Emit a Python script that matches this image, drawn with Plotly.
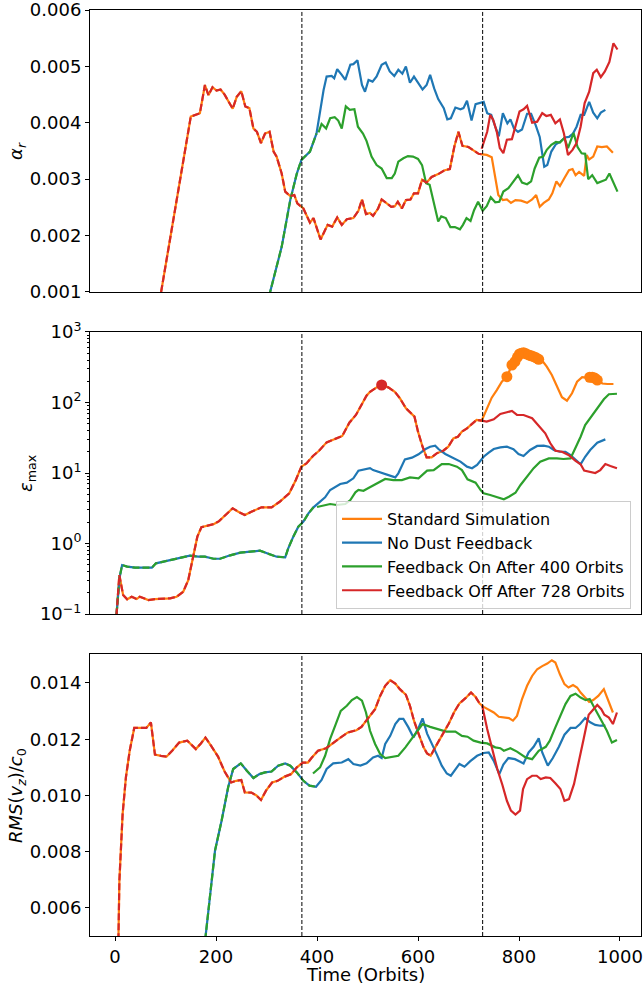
import plotly.graph_objects as go

# ---------------------------------------------------------------------------
# Data (time in orbits)
# ---------------------------------------------------------------------------
# Top panel: alpha_r
alpha_std_t = [78, 150, 168, 178, 185, 193, 201, 209, 217, 233, 241, 250, 258, 266, 274, 281,
               289, 297, 306, 314, 320, 330, 337, 347, 355, 361, 373, 386, 393, 407, 421, 430,
               440, 449, 459, 472, 482, 489, 497, 505, 511, 521, 528, 537, 547, 554, 560, 568,
               576, 585, 592, 600, 608, 617, 627, 640, 653, 663, 672, 680, 688, 700, 710, 720,
               728, 736, 746, 753, 759, 768, 776, 784, 793, 804, 816, 826, 834, 841, 849, 859,
               866, 874, 881, 890, 899, 906, 912, 919, 929, 934, 939, 947, 955, 964, 974, 986]
alpha_std = [0.0003, 0.00411, 0.00417, 0.00467, 0.00449, 0.00463, 0.00457, 0.00459, 0.0045,
             0.00425, 0.00446, 0.00456, 0.00429, 0.00426, 0.0039, 0.00384, 0.00364, 0.00381,
             0.00384, 0.00349, 0.0034, 0.0031, 0.00278, 0.0027, 0.00272, 0.00257, 0.00248,
             0.00223, 0.00231, 0.00193, 0.00219, 0.00216, 0.00232, 0.00219, 0.00229, 0.00231,
             0.00244, 0.00264, 0.00238, 0.0024, 0.00235, 0.00248, 0.00264, 0.00258, 0.00251,
             0.00252, 0.0026, 0.00248, 0.00263, 0.00264, 0.00275, 0.00275, 0.00299, 0.00294,
             0.00304, 0.00309, 0.00316, 0.00318, 0.00358, 0.00384, 0.00359, 0.00357, 0.00351,
             0.00345, 0.00344, 0.00343, 0.00339, 0.00304, 0.00272, 0.00263, 0.00264, 0.00258,
             0.00263, 0.00262, 0.00258, 0.00264, 0.00272, 0.00251, 0.00258, 0.00264, 0.00275,
             0.00296, 0.00288, 0.00302, 0.00316, 0.00318, 0.00307, 0.00313, 0.00306, 0.00343,
             0.00335, 0.0034, 0.00358, 0.00357, 0.00358, 0.00347]

alpha_nofb_t = [300, 330, 347, 360, 369, 386, 399, 406, 413, 419, 429, 434, 440, 449, 456, 466,
                472, 480, 489, 495, 502, 510, 518, 528, 536, 544, 553, 561, 569, 576, 584, 592,
                601, 609, 617, 624, 632, 640, 651, 658, 665, 674, 684, 690, 697, 706, 714, 722,
                730, 737, 745, 753, 760, 768, 777, 783, 790, 798, 806, 816, 824, 833, 841, 850,
                856, 864, 873, 881, 891, 899, 907, 914, 922, 929, 939, 947, 955, 962, 971]
alpha_nofb = [0.00075, 0.0018, 0.00263, 0.0031, 0.00334, 0.00349, 0.00381, 0.00423, 0.00458,
              0.00482, 0.00483, 0.00479, 0.00495, 0.00485, 0.00476, 0.00503, 0.00504, 0.00511,
              0.00467, 0.00455, 0.00476, 0.00473, 0.00482, 0.00503, 0.00507, 0.00491, 0.00483,
              0.00494, 0.00487, 0.005, 0.00471, 0.00482, 0.0047, 0.00459, 0.00467, 0.00485,
              0.00461, 0.00442, 0.00426, 0.00406, 0.00408, 0.00427, 0.00424, 0.00426, 0.00439,
              0.00404, 0.00433, 0.00435, 0.00437, 0.00417, 0.00414, 0.00393, 0.00376, 0.00417,
              0.00399, 0.00406, 0.0039, 0.00384, 0.00388, 0.00416, 0.00416, 0.00396, 0.00375,
              0.00322, 0.00325, 0.00349, 0.00362, 0.00366, 0.00374, 0.00375, 0.00381, 0.00393,
              0.00414, 0.00414, 0.00437, 0.00418, 0.00408, 0.00418, 0.00423]

alpha_on_t = [403, 409, 418, 426, 435, 442, 449, 457, 465, 474, 481, 491, 498, 508, 518, 528,
              538, 548, 554, 561, 571, 580, 590, 600, 608, 616, 623, 631, 640, 646, 655, 664,
              673, 683, 689, 696, 704, 711, 719, 728, 736, 744, 753, 761, 769, 779, 789, 798,
              806, 816, 824, 831, 840, 848, 855, 864, 873, 881, 890, 897, 908, 916, 924, 931,
              937, 945, 955, 962, 972, 979, 987, 995]
alpha_on = [0.00383, 0.00398, 0.0039, 0.00408, 0.0041, 0.00404, 0.0039, 0.00429, 0.00423,
            0.00424, 0.00393, 0.00381, 0.00368, 0.0034, 0.00325, 0.00319, 0.00302, 0.00302,
            0.0031, 0.00331, 0.00337, 0.00341, 0.0034, 0.00336, 0.00325, 0.00293, 0.0029,
            0.00257, 0.00225, 0.00234, 0.00231, 0.00215, 0.00215, 0.00211, 0.00219, 0.00231,
            0.00226, 0.00245, 0.0026, 0.00244, 0.00252, 0.00268, 0.00259, 0.0026, 0.00278,
            0.00284, 0.00296, 0.00307, 0.00294, 0.00291, 0.00296, 0.00319, 0.00338, 0.0034,
            0.00352, 0.00361, 0.00366, 0.00365, 0.00373, 0.00355, 0.00382, 0.00357, 0.00346,
            0.00345, 0.003, 0.00307, 0.00293, 0.00296, 0.00299, 0.0031, 0.00293, 0.00278]

alpha_off_t = [726, 737, 743, 749, 756, 762, 769, 776, 786, 793, 801, 809, 816, 826, 836, 846,
               854, 863, 872, 881, 889, 897, 906, 914, 922, 930, 939, 947, 954, 962, 970, 979,
               987, 995]
alpha_off = [0.00354, 0.00384, 0.00414, 0.00405, 0.00384, 0.00355, 0.00346, 0.0037, 0.00371,
             0.00396, 0.0042, 0.00424, 0.0043, 0.004, 0.00402, 0.00417, 0.00412, 0.00414,
             0.00399, 0.00406, 0.00381, 0.00343, 0.00352, 0.00364, 0.00393, 0.00435, 0.00455,
             0.00488, 0.00494, 0.00481, 0.00491, 0.00508, 0.00541, 0.0053]

# Middle panel: maximum dust-to-gas ratio
eps_std_t = [0, 3, 8.5, 16, 24, 33, 43, 49, 56, 66, 79, 92, 109, 122, 135, 145, 155, 163, 171,
             183, 196, 206, 222, 233, 244, 257, 270, 290, 310, 326, 345, 358, 369, 379, 392,
             404, 419, 435, 450, 464, 477, 489, 498, 505, 518, 528, 541, 554, 564, 576, 584,
             593, 600, 609, 617, 627, 637, 650, 660, 670, 679, 687, 697, 706, 716, 726, 736,
             746, 756, 766, 776, 786, 792, 797, 801, 805, 809, 814, 819, 824, 829, 834, 839,
             845, 855, 865, 875, 885, 895, 905, 915, 925, 935, 940, 945, 950, 955, 965, 975, 987]
eps_std = [0.05, 0.1, 0.357, 0.186, 0.162, 0.176, 0.163, 0.176, 0.167, 0.158, 0.163, 0.165,
           0.167, 0.176, 0.207, 0.303, 0.65, 1.25, 1.70, 1.81, 1.89, 2.08, 2.68, 3.16, 2.82,
           2.54, 2.82, 3.26, 3.26, 3.91, 5.15, 7.95, 12.3, 13.7, 17.4, 20.7, 27.2, 30.0, 33.5,
           51.7, 66.5, 95.0, 125.0, 142.0, 164.0, 177.0, 164.0, 142.0, 115.0, 83.0, 72.0, 63.0,
           38.6, 23.6, 16.7, 16.7, 19.0, 20.7, 23.6, 31.0, 32.7, 38.6, 43.0, 49.6, 56.7, 55.2,
           83.0, 117.0, 150.0, 197.0, 232.0, 340.0, 380.0, 440.0, 488.0, 500.0, 508.0, 490.0,
           472.0, 460.0, 447.0, 430.0, 410.0, 400.0, 322.0, 245.0, 167.0, 119.0, 106.0, 135.0,
           197.0, 228.0, 225.0, 228.0, 228.0, 222.0, 208.0, 186.0, 183.0, 183.0]
# times flagged with a marker
eps_std_flag_t = [776, 786, 792, 797, 801, 805, 809, 814, 819, 824, 829, 834, 839, 940, 945,
                  950, 955]
eps_off_flag_t = [528]

eps_nofb_t = [3, 9, 14, 24, 40, 60, 73, 81, 95, 112, 128, 148, 165, 178, 195, 208, 228, 248,
              268, 287, 301, 320, 337, 343, 353, 363, 373, 383, 393, 406, 416, 426, 436, 446,
              459, 472, 482, 492, 505, 511, 525, 541, 555, 561, 574, 588, 601, 614, 624, 634,
              641, 654, 667, 684, 697, 707, 717, 730, 740, 750, 763, 776, 789, 799, 809, 822,
              836, 849, 859, 869, 881, 892, 902, 912, 922, 931, 941, 955, 971]
eps_nofb = [0.1, 0.33, 0.495, 0.47, 0.455, 0.455, 0.454, 0.524, 0.552, 0.597, 0.637, 0.672,
            0.65, 0.65, 0.608, 0.608, 0.68, 0.742, 0.765, 0.79, 0.726, 0.65, 0.637, 0.855, 1.25,
            1.73, 2.04, 2.68, 3.26, 3.92, 4.52, 5.74, 6.4, 6.98, 7.29, 8.41, 10.8, 11.3, 11.7,
            11.0, 10.2, 9.33, 8.68, 9.9, 15.6, 16.5, 18.4, 21.7, 23.6, 24.4, 21.7, 18.6, 16.7,
            14.5, 12.3, 11.7, 13.0, 17.0, 19.4, 21.9, 23.1, 23.6, 21.7, 18.6, 17.4, 21.2, 24.2,
            24.4, 23.6, 21.2, 20.0, 20.0, 18.0, 15.3, 13.3, 17.0, 21.2, 26.9, 30.0]

eps_on_t = [400, 416, 426, 439, 456, 466, 476, 482, 492, 501, 518, 535, 551, 568, 584, 601,
            618, 631, 647, 661, 677, 687, 698, 714, 724, 730, 743, 757, 770, 780, 793, 803, 816,
            829, 842, 859, 875, 888, 902, 912, 922, 931, 941, 955, 968, 978, 994]
eps_on = [3.3, 3.52, 3.63, 3.52, 3.63, 4.14, 5.32, 5.74, 5.6, 6.07, 7.14, 8.22, 7.94, 7.94,
          8.68, 8.41, 10.8, 11.0, 13.4, 13.4, 12.3, 11.0, 8.13, 7.29, 5.74, 5.15, 4.87, 4.52,
          4.24, 4.6, 5.25, 6.76, 8.85, 11.7, 14.5, 16.1, 16.1, 15.8, 16.1, 22.4, 32.7, 47.9,
          59.7, 82.8, 111.0, 131.0, 133.0]

eps_off_t = [726, 736, 750, 763, 776, 786, 796, 809, 826, 839, 852, 862, 872, 885, 898, 912,
             922, 929, 941, 951, 961, 971, 981, 994]
eps_off = [55.2, 53.5, 57.6, 68.7, 72.6, 75.8, 66.5, 66.5, 59.7, 46.4, 36.6, 26.4, 20.7, 20.0,
           18.0, 14.9, 13.3, 10.8, 10.4, 10.0, 11.0, 13.4, 12.6, 11.7]

# Bottom panel: RMS vertical velocity
rms_std_t = [4, 8.6, 15, 21.5, 29, 38, 48, 62, 71, 79, 91, 102, 114, 127, 143, 160, 170, 179,
             190, 204, 217, 230, 240, 250, 257, 270, 280, 289, 299, 311, 322, 336, 349, 360,
             372, 382, 389, 402, 418, 432, 445, 461, 478, 488, 495, 505, 515, 525, 535, 545,
             555, 564, 576, 584, 592, 601, 611, 618, 625, 634, 647, 661, 672, 682, 694, 705,
             714, 722, 730, 740, 750, 760, 770, 780, 788, 796, 806, 816, 826, 836, 846, 856,
             865, 872, 881, 890, 898, 907, 915, 922, 931, 939, 947, 957, 968, 977, 986]
rms_std = [0.002, 0.00697, 0.00934, 0.01064, 0.01159, 0.0124, 0.0124, 0.0124, 0.0126, 0.01145,
           0.01141, 0.01138, 0.01161, 0.01188, 0.01195, 0.01165, 0.01185, 0.01206, 0.01177,
           0.01138, 0.01085, 0.01046, 0.01052, 0.01055, 0.01011, 0.0101, 0.01, 0.00984,
           0.01017, 0.01046, 0.01052, 0.01067, 0.01076, 0.011, 0.01117, 0.01117, 0.01133,
           0.01159, 0.01168, 0.01188, 0.01204, 0.01224, 0.01232, 0.01244, 0.0126, 0.01283,
           0.01307, 0.01354, 0.0139, 0.0141, 0.01398, 0.01378, 0.01358, 0.01319, 0.01266,
           0.0122, 0.01171, 0.01149, 0.01141, 0.01171, 0.01212, 0.01256, 0.01298, 0.01327,
           0.01346, 0.01366, 0.0135, 0.01327, 0.01315, 0.01304, 0.01295, 0.0128, 0.01277,
           0.01275, 0.01266, 0.01283, 0.01343, 0.0139, 0.01425, 0.01449, 0.0146, 0.01469,
           0.01481, 0.01473, 0.01431, 0.01396, 0.01384, 0.01393, 0.01384, 0.01366, 0.01348,
           0.01333, 0.01339, 0.01354, 0.01378, 0.01339, 0.01295]

rms_nofb_t = [172, 188, 198, 211, 224, 234, 249, 261, 274, 286, 297, 310, 323, 337, 347, 360,
              373, 385, 398, 409, 419, 432, 449, 462, 472, 486, 498, 511, 521, 528, 535, 545,
              555, 563, 571, 581, 591, 601, 609, 618, 627, 637, 647, 657, 665, 674, 682, 692,
              703, 717, 730, 740, 750, 761, 769, 779, 792, 809, 819, 829, 839, 846, 857, 867,
              879, 890, 902, 912, 921, 931, 941, 951, 961, 971]
rms_nofb = [0.0038, 0.0065, 0.00804, 0.0091, 0.01029, 0.01094, 0.01114, 0.01088, 0.01062,
            0.01076, 0.01082, 0.01085, 0.01106, 0.01114, 0.01106, 0.01082, 0.01052, 0.01035,
            0.01031, 0.01055, 0.01094, 0.01114, 0.01117, 0.01129, 0.01112, 0.01106, 0.01114,
            0.01135, 0.01141, 0.01133, 0.01183, 0.01212, 0.01254, 0.01272, 0.01272, 0.01242,
            0.01206, 0.0124, 0.01274, 0.0122, 0.01188, 0.01147, 0.01106, 0.01078, 0.0107,
            0.01094, 0.01112, 0.01102, 0.01121, 0.01141, 0.01151, 0.01153, 0.01123, 0.01076,
            0.0111, 0.01133, 0.01129, 0.01114, 0.01153, 0.01173, 0.01203, 0.01153, 0.01106,
            0.01133, 0.01173, 0.01216, 0.0124, 0.0124, 0.01254, 0.01275, 0.0126, 0.01251,
            0.01248, 0.01248]

rms_on_t = [392, 406, 416, 426, 436, 447, 459, 469, 479, 489, 497, 505, 515, 525, 535, 548,
            561, 575, 591, 609, 624, 641, 656, 674, 687, 698, 710, 724, 737, 753, 763, 770,
            783, 796, 813, 826, 839, 853, 861, 872, 882, 892, 902, 912, 922, 932, 940, 948,
            956, 965, 974, 984, 994]
rms_on = [0.01078, 0.011, 0.01141, 0.01201, 0.01248, 0.01301, 0.01319, 0.01339, 0.0135,
          0.01337, 0.01295, 0.0123, 0.01183, 0.01147, 0.01133, 0.01138, 0.01141, 0.01171,
          0.01212, 0.01254, 0.01244, 0.01236, 0.01227, 0.01227, 0.01212, 0.01209, 0.01195,
          0.01188, 0.01185, 0.01171, 0.01168, 0.01159, 0.01168, 0.01156, 0.01135, 0.01129,
          0.01159, 0.01173, 0.01195, 0.01242, 0.01283, 0.01325, 0.01354, 0.01362, 0.01348,
          0.01339, 0.01343, 0.01319, 0.0129, 0.0126, 0.0123, 0.01188, 0.01197]

rms_off_t = [727, 737, 747, 757, 767, 776, 784, 793, 802, 808, 816, 826, 835, 843, 853, 862,
             872, 882, 890, 899, 909, 918, 928, 938, 947, 955, 963, 969, 978, 986, 994]
rms_off = [0.0132, 0.01236, 0.01165, 0.01094, 0.01038, 0.00981, 0.00946, 0.00932, 0.00946,
           0.01023, 0.01058, 0.0107, 0.0107, 0.01058, 0.01064, 0.01062, 0.01043, 0.01023,
           0.00981, 0.00987, 0.01041, 0.01112, 0.01201, 0.01287, 0.01307, 0.01322, 0.01307,
           0.01287, 0.01277, 0.01254, 0.01295]

T_ON = 400      # feedback switched on
T_OFF = 728     # feedback switched off
VLINES = [370, 728]

names = ["Standard Simulation", "No Dust Feedback",
         "Feedback On After 400 Orbits", "Feedback Off After 728 Orbits"]
y_titles = ["<i>α<sub>r</sub></i>", "<i>ε</i><sub>max</sub>",
            "<i>RMS</i>(<i>v<sub>z</sub></i>)/<i>c</i><sub>0</sub>"]
x_title = "Time (Orbits)"
C_STD, C_NOFB, C_ON, C_OFF = "#ff7f0e", "#1f77b4", "#2ca02c", "#d62728"

FONT = "DejaVu Sans"
LW = 2.2
DASH = "7px,3px"

# panel geometry (paper fractions)
DOMAINS = [[0.6955, 1.0], [0.3477, 0.6523], [0.0, 0.3045]]


def upto(t, v, tmax):
    pairs = [(a, b) for a, b in zip(t, v) if a <= tmax]
    return [p[0] for p in pairs], [p[1] for p in pairs]


fig = go.Figure()

panels = [
    (alpha_std_t, alpha_std, alpha_nofb_t, alpha_nofb, alpha_on_t, alpha_on,
     alpha_off_t, alpha_off),
    (eps_std_t, eps_std, eps_nofb_t, eps_nofb, eps_on_t, eps_on, eps_off_t, eps_off),
    (rms_std_t, rms_std, rms_nofb_t, rms_nofb, rms_on_t, rms_on, rms_off_t, rms_off),
]

for k, (st, sv, nt, nv, ont, onv, oft, ofv) in enumerate(panels):
    xa = "x" if k == 0 else f"x{k + 1}"
    ya = "y" if k == 0 else f"y{k + 1}"
    first = k == 1
    # Standard run and run without feedback
    fig.add_trace(go.Scatter(x=st, y=sv, mode="lines", line=dict(color=C_STD, width=LW),
                             name=names[0], showlegend=first, legendrank=1,
                             xaxis=xa, yaxis=ya, hoverinfo="skip"))
    fig.add_trace(go.Scatter(x=nt, y=nv, mode="lines", line=dict(color=C_NOFB, width=LW),
                             name=names[1], showlegend=first, legendrank=2,
                             xaxis=xa, yaxis=ya, hoverinfo="skip"))
    # Restarted runs share history with their parent run before the switch
    gt, gv = upto(nt, nv, T_ON)
    fig.add_trace(go.Scatter(x=gt, y=gv, mode="lines",
                             line=dict(color=C_ON, width=LW, dash=DASH),
                             showlegend=False, xaxis=xa, yaxis=ya, hoverinfo="skip"))
    fig.add_trace(go.Scatter(x=ont, y=onv, mode="lines", line=dict(color=C_ON, width=LW),
                             name=names[2], showlegend=first, legendrank=3,
                             xaxis=xa, yaxis=ya, hoverinfo="skip"))
    rt, rv = upto(st, sv, T_OFF)
    fig.add_trace(go.Scatter(x=rt, y=rv, mode="lines",
                             line=dict(color=C_OFF, width=LW, dash=DASH),
                             showlegend=False, xaxis=xa, yaxis=ya, hoverinfo="skip"))
    fig.add_trace(go.Scatter(x=oft, y=ofv, mode="lines", line=dict(color=C_OFF, width=LW),
                             name=names[3], showlegend=first, legendrank=4,
                             xaxis=xa, yaxis=ya, hoverinfo="skip"))

# Flagged points on the epsilon curves
lookup = dict(zip(eps_std_t, eps_std))
fig.add_trace(go.Scatter(x=eps_std_flag_t, y=[lookup[t] for t in eps_std_flag_t],
                         mode="markers", marker=dict(color=C_STD, size=11),
                         showlegend=False, xaxis="x2", yaxis="y2", hoverinfo="skip"))
fig.add_trace(go.Scatter(x=eps_off_flag_t, y=[lookup[t] for t in eps_off_flag_t],
                         mode="markers", marker=dict(color=C_OFF, size=11),
                         showlegend=False, xaxis="x2", yaxis="y2", hoverinfo="skip"))

# Vertical reference lines
for k in range(3):
    xa = "x" if k == 0 else f"x{k + 1}"
    ya = "y" if k == 0 else f"y{k + 1}"
    for xv in VLINES:
        fig.add_shape(type="line", x0=xv, x1=xv, y0=0, y1=1, xref=xa, yref=f"{ya} domain",
                      line=dict(color="black", width=1, dash="4px,2px"), layer="above")

# Axis titles as annotations
title_font = dict(family=FONT, size=18, color="black")
y_title_x = [-0.1325, -0.1143, -0.1325]
for k, (txt, xp) in enumerate(zip(y_titles, y_title_x)):
    d0, d1 = DOMAINS[k]
    fig.add_annotation(text=txt, x=xp, y=(d0 + d1) / 2, xref="paper", yref="paper",
                       xanchor="center", yanchor="middle", textangle=-90,
                       showarrow=False, font=title_font)
fig.add_annotation(text=x_title, x=0.5, y=-0.0415, xref="paper", yref="paper",
                   xanchor="center", yanchor="middle", showarrow=False, font=title_font)

XRANGE = [-49.6, 1041.6]
tickfont = dict(family=FONT, size=18, color="black")
axis_common = dict(showline=True, linecolor="black", linewidth=1, mirror=True,
                   showgrid=False, zeroline=False, tickfont=tickfont, ticks="outside",
                   ticklen=4, tickwidth=1, tickcolor="black", ticklabeloverflow="allow")

minor_vals = [m * 10 ** e for e in range(-1, 3) for m in range(2, 10)]

fig.update_layout(
    width=643, height=985,
    margin=dict(l=90, r=2, t=10, b=49, autoexpand=False),
    plot_bgcolor="white", paper_bgcolor="white",
    font=dict(family=FONT, size=18, color="black"),
    xaxis=dict(domain=[0, 1], range=XRANGE, anchor="y", matches="x3", showticklabels=False,
               **{**axis_common, "ticks": ""}),
    xaxis2=dict(domain=[0, 1], range=XRANGE, anchor="y2", matches="x3", showticklabels=False,
                **{**axis_common, "ticks": ""}),
    xaxis3=dict(domain=[0, 1], range=XRANGE, anchor="y3",
                tickvals=[0, 200, 400, 600, 800, 1000], **axis_common),
    yaxis=dict(domain=DOMAINS[0], range=[0.001, 0.006], anchor="x",
               tickvals=[0.001, 0.002, 0.003, 0.004, 0.005, 0.006],
               ticktext=["0.001", "0.002", "0.003", "0.004", "0.005", "0.006"],
               **axis_common),
    yaxis2=dict(domain=DOMAINS[1], type="log", range=[-1, 3], anchor="x2",
                tickvals=[0.1, 1, 10, 100, 1000],
                ticktext=["10<sup>−1</sup>", "10<sup>0</sup>", "10<sup>1</sup>",
                          "10<sup>2</sup>", "10<sup>3</sup>"],
                minor=dict(tickmode="array", tickvals=minor_vals, ticks="outside", ticklen=2,
                           tickwidth=1, tickcolor="black"),
                **axis_common),
    yaxis3=dict(domain=DOMAINS[2], range=[0.005, 0.01503], anchor="x3",
                tickvals=[0.006, 0.008, 0.010, 0.012, 0.014],
                ticktext=["0.006", "0.008", "0.010", "0.012", "0.014"],
                **axis_common),
    legend=dict(x=0.4465, y=0.4698, xanchor="left", yanchor="top",
                bgcolor="rgba(255,255,255,0.8)", bordercolor="#cccccc", borderwidth=1,
                font=dict(family=FONT, size=16, color="black"), tracegroupgap=0,
                itemwidth=40),
    showlegend=True,
)

fig.write_html("out.html")
